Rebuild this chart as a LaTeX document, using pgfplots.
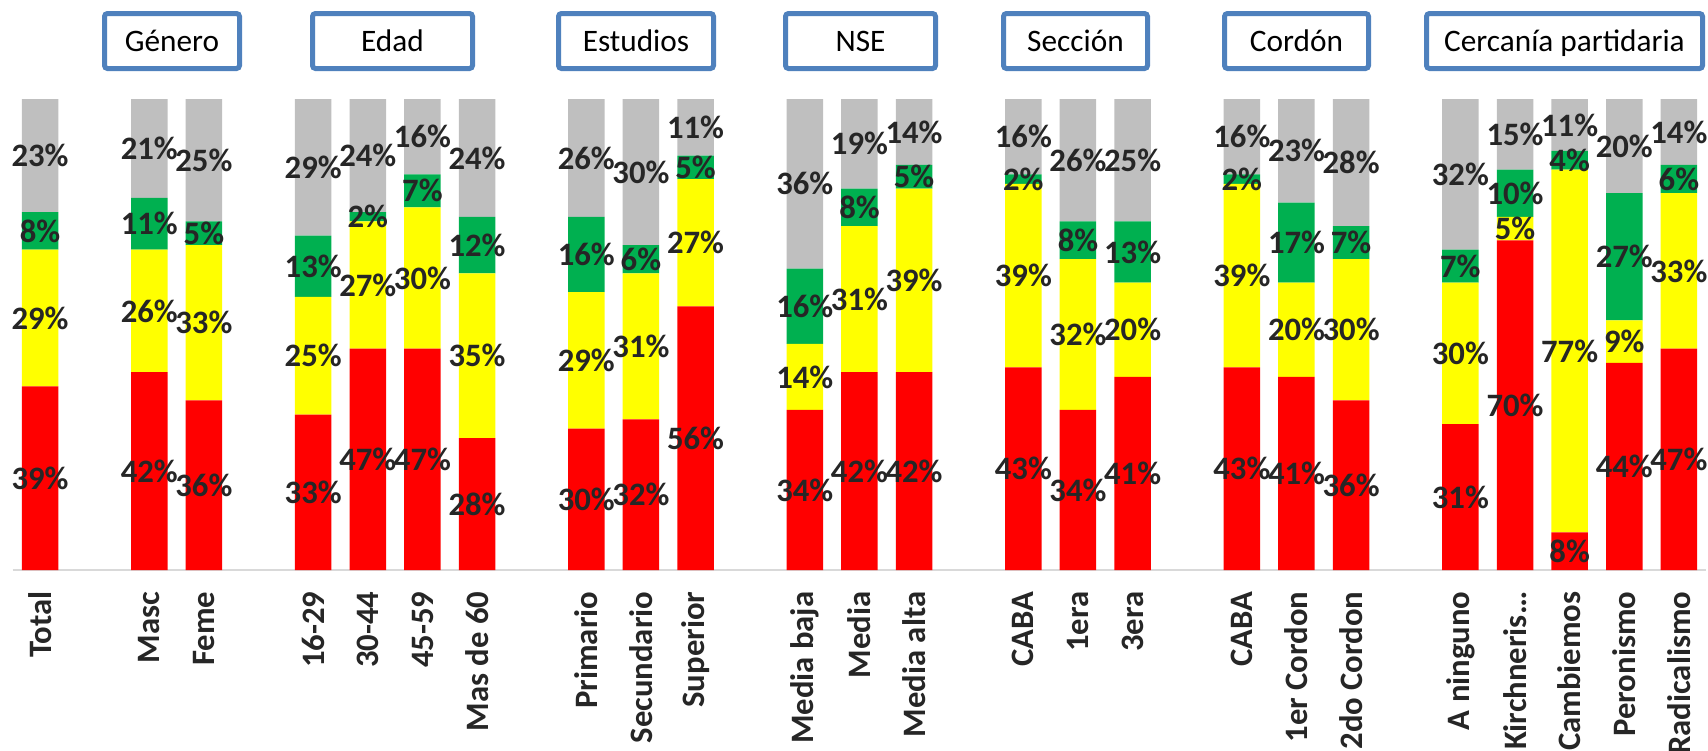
\documentclass[border=0pt]{standalone}
\usepackage{pgfplots}
\usepackage{pgfplotstable}
\pgfplotsset{compat=1.18}
\usepackage{fontspec}
\setmainfont{Carlito}
\definecolor{cred}{HTML}{FF0000}
\definecolor{cyel}{HTML}{FFFF00}
\definecolor{cgrn}{HTML}{00B050}
\definecolor{cgry}{HTML}{BFBFBF}
\definecolor{boxblue}{HTML}{4F81BD}
\definecolor{lblc}{HTML}{262626}
\definecolor{axc}{HTML}{D9D9D9}

% x = slot, r/y/g/gr = segment heights, grl = printed gray label
\pgfplotstableread{
x  r  y  g  gr grl
0  39 29 8  24 23
2  42 26 11 21 21
3  36 33 5  26 25
5  33 25 13 29 29
6  47 27 2  24 24
7  47 30 7  16 16
8  28 35 12 25 24
10 30 29 16 25 26
11 32 31 6  31 30
12 56 27 5  12 11
14 34 14 16 36 36
15 42 31 8  19 19
16 42 39 5  14 14
18 43 39 2  16 16
19 34 32 8  26 26
20 41 20 13 26 25
22 43 39 2  16 16
23 41 20 17 22 23
24 36 30 7  27 28
26 31 30 7  32 32
27 70 5  10 15 15
28 8  77 4  11 11
29 44 9  27 20 20
30 47 33 6  14 14
}\datatable

\pgfplotsset{
  base/.style={
    scale only axis,
    width=169.35mm, height=47.1mm,
    at={(1.27mm,-57.0mm)}, anchor=south west,
    xmin=-0.5, xmax=30.5, ymin=0, ymax=100,
    ybar stacked, bar width=3.65mm,
    clip=false,
  },
  lab/.style={
    nodes near coords={\pgfplotspointmeta\%},
    point meta=explicit symbolic,
    every node near coord/.style={anchor=center, inner sep=0pt,
      font=\fontsize{9.3}{10}\selectfont\bfseries, text=lblc},
    draw=none, fill=none,
  },
}

\begin{document}
\begin{tikzpicture}
% group boxes
\foreach \xa/\xb/\t in {104.5/239.5/Género, 312.5/472.5/Edad, 558.5/713.5/Estudios, 785.5/935.5/NSE, 1003.5/1147.5/Sección, 1224.5/1368.5/Cordón, 1426.5/1702.5/Cercanía partidaria}{
  \draw[boxblue, line width=0.5mm, fill=white, rounded corners=0.3mm] (\xa*0.1mm,-1.35mm) rectangle (\xb*0.1mm,-6.85mm);
  \node[anchor=base, inner sep=0pt, font=\fontsize{8.9}{10}\selectfont, text=black] at ({(\xa+\xb)*0.05mm},-5.1mm) {\t};
}
\begin{axis}[base,
  axis y line=none,
  axis x line*=bottom,
  x axis line style={draw=axc, line width=0.2mm},
  xtick={0,2,3,5,6,7,8,10,11,12,14,15,16,18,19,20,22,23,24,26,27,28,29,30},
  xticklabels={Total,Masc,Feme,16-29,30-44,45-59,Mas de 60,Primario,Secundario,Superior,Media baja,Media,Media alta,CABA,1era,3era,CABA,1er Cordon,2do Cordon,A ninguno,Kirchneris…,Cambiemos,Peronismo,Radicalismo},
  major tick length=0pt,
  xticklabel style={rotate=90, anchor=east, inner sep=0pt,
    font=\fontsize{9.3}{10}\selectfont\bfseries, text=lblc},
  xticklabel shift={2.1mm},
]
\addplot[fill=cred, draw=none] table[x=x, y=r] {\datatable};
\addplot[fill=cyel, draw=none] table[x=x, y=y] {\datatable};
\addplot[fill=cgrn, draw=none] table[x=x, y=g] {\datatable};
\addplot[fill=cgry, draw=none] table[x=x, y=gr] {\datatable};
\end{axis}
\begin{axis}[base, hide axis]
\addplot[lab] table[x=x, y=r, meta=r] {\datatable};
\addplot[lab] table[x=x, y=y, meta=y] {\datatable};
\addplot[lab] table[x=x, y=g, meta=g] {\datatable};
\addplot[lab] table[x=x, y=gr, meta=grl] {\datatable};
\end{axis}
\pgfresetboundingbox
\path[use as bounding box] (0,0) rectangle (170.8mm,-75mm);
\end{tikzpicture}
\end{document}
